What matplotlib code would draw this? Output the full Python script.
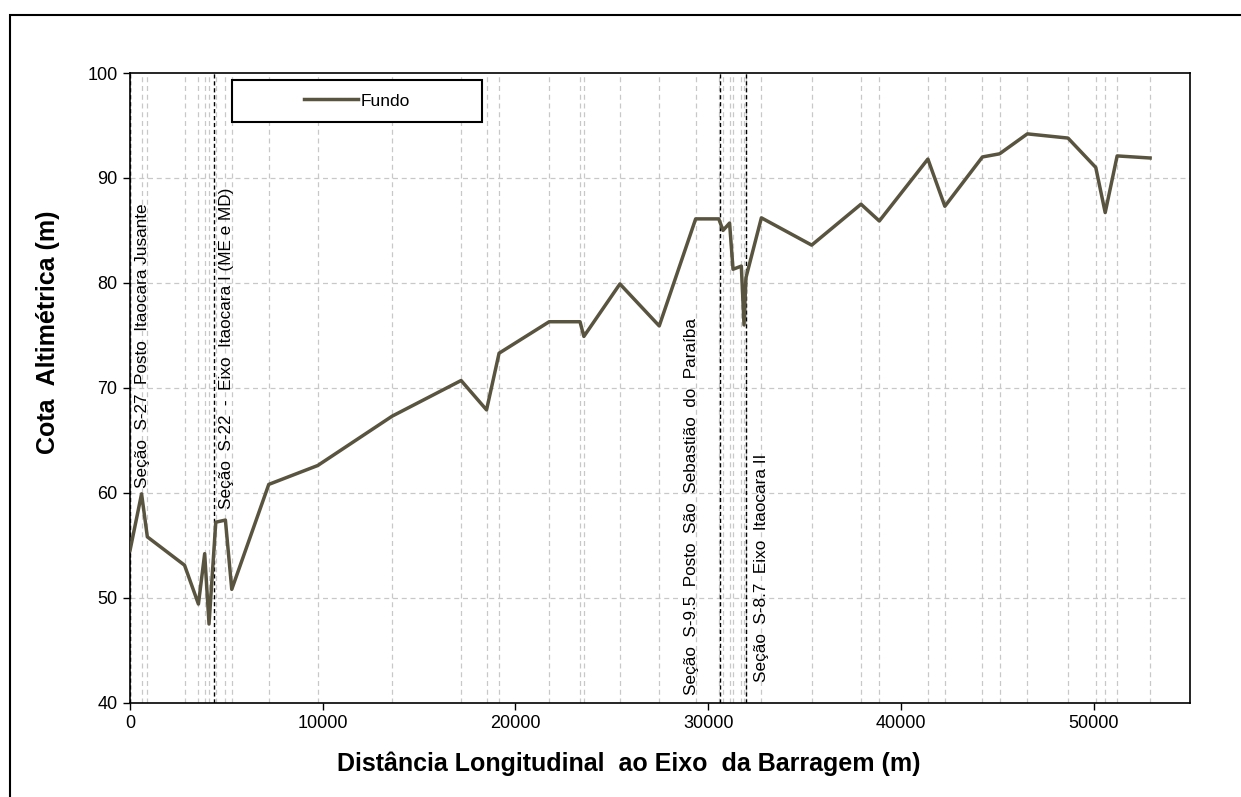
import matplotlib
matplotlib.use('Agg')
import matplotlib.pyplot as plt
from matplotlib.patches import Rectangle

# Longitudinal profile of the river bed (Fundo)
dist_m = [0, 600, 900, 2830, 3550, 3875, 4100, 4450, 4950, 5280, 7200, 9740,
          13600, 17180, 18500, 19150, 21750, 23350, 23550, 25420, 27460,
          29350, 30550, 30770, 31110, 31290, 31720, 31860, 31960, 32760,
          35370, 37930, 38880, 41400, 42280, 44230, 45120, 46560, 48670,
          50110, 50600, 51220, 52930]
cota_m = [54.5, 59.9, 55.8, 53.1, 49.4, 54.2, 47.5, 57.2, 57.4, 50.8, 60.8, 62.6,
          67.3, 70.7, 67.9, 73.3, 76.3, 76.3, 74.9, 79.9, 75.9,
          86.1, 86.1, 85.0, 85.7, 81.3, 81.6, 76.0, 80.5, 86.2,
          83.6, 87.5, 85.9, 91.8, 87.3, 92.0, 92.3, 94.2, 93.8,
          91.0, 86.7, 92.1, 91.9]

# Reference sections
secao_x = [0, 4340, 30600, 31980]
secao_txt = ['Seção  S-27  Posto  Itaocara Jusante',
             'Seção  S-22  -  Eixo  Itaocara I (ME e MD)',
             'Seção  S-9.5  Posto  São  Sebastião  do  Paraíba',
             'Seção  S-8.7  Eixo  Itaocara II']

plt.rcParams['font.family'] = ['Liberation Sans', 'DejaVu Sans']

fig = plt.figure(figsize=(12.41, 7.97), dpi=100)
ax = fig.add_axes([130/1241, 1 - 702.7/797, (1190-130)/1241, (702.7-73)/797])

# outer frame (chart area border)
fig.patches.append(Rectangle((10/1241, -0.05), 1.2, 1 - 15/797 + 0.05,
                             transform=fig.transFigure, fill=False,
                             edgecolor='black', linewidth=1.5, zorder=0))

# light dashed grid: horizontal every 10 m, vertical at each surveyed section
for yv in range(50, 100, 10):
    ax.axhline(yv, color='#c8c8c8', linestyle=(0, (4, 3)), linewidth=0.9, zorder=1)
for xv in dist_m:
    ax.axvline(xv, color='#c8c8c8', linestyle=(0, (4, 3)), linewidth=0.9, zorder=1)

# section markers
for xv in secao_x:
    ax.axvline(xv, color='black', linestyle=(0, (3, 2)), linewidth=1.0, zorder=2)

ax.plot(dist_m, cota_m, color='#59543f', linewidth=2.5, label='Fundo', zorder=3)

txt_pos = [(250, 60.5, 'left'), (4620, 58.5, 'left'), (29500, 40.7, 'right'), (32400, 42.0, 'left')]
for (tx, ty, ha), s in zip(txt_pos, secao_txt):
    ax.text(tx, ty, s, rotation=90, fontsize=12.3, ha=ha, va='bottom', zorder=4)

ax.set_xlim(0, 55000)
ax.set_ylim(40, 100)
ax.set_xticks(range(0, 55000, 10000))
ax.set_yticks(range(40, 101, 10))
ax.tick_params(direction='out', length=5, width=1, labelsize=13, pad=4)
for sp in ax.spines.values():
    sp.set_linewidth(1.2)

ax.set_xlabel('Distância Longitudinal  ao Eixo  da Barragem (m)', fontsize=18,
              fontweight='bold')
ax.set_ylabel('Cota  Altimétrica (m)', fontsize=18, fontweight='bold')
ax.xaxis.set_label_coords((629 - 130) / 1060, -0.077)
ax.yaxis.set_label_coords(-0.066, (702.7 - 332) / 629.7)

# legend box inside the plot, entry centred in it
box_x, box_y, box_w, box_h = 102/1060, 1 - 49/630, 250/1060, 42/630
ax.add_patch(Rectangle((box_x, box_y), box_w, box_h, transform=ax.transAxes,
                       facecolor='white', edgecolor='black', linewidth=1.5, zorder=5))
leg = ax.legend(loc='center', bbox_to_anchor=(box_x, box_y, box_w, box_h),
                fontsize=12.5, frameon=False, handlelength=3.1, handletextpad=0.15,
                borderaxespad=0)
leg.set_zorder(6)

fig.savefig('out.png', dpi=100)
